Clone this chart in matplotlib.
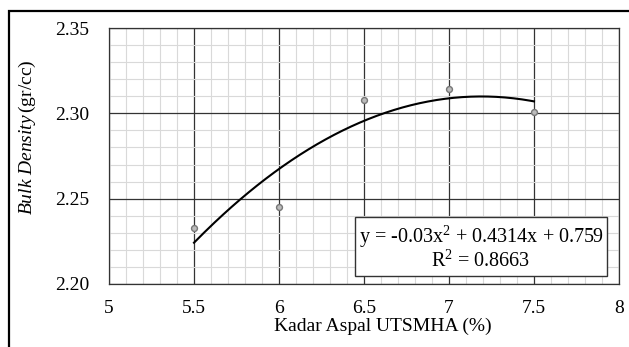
import numpy as np
import matplotlib
matplotlib.use('Agg')
import matplotlib.pyplot as plt
from matplotlib.ticker import MultipleLocator
from matplotlib.patches import Rectangle

# Data
kadar_aspal = [5.5, 6.0, 6.5, 7.0, 7.5]
bulk_density = [2.233, 2.245, 2.308, 2.314, 2.301]
trend_coefs = [-0.03, 0.4314, 0.759]
x_ticks = [5, 5.5, 6, 6.5, 7, 7.5, 8]
x_tick_labels = ['5', '5.5', '6', '6.5', '7', '7.5', '8']
y_ticks = [2.20, 2.25, 2.30, 2.35]
y_tick_labels = ['2.20', '2.25', '2.30', '2.35']

plt.rcParams['font.family'] = ['Liberation Serif', 'DejaVu Serif']
plt.rcParams['mathtext.fontset'] = 'custom'
plt.rcParams['mathtext.rm'] = 'Liberation Serif'
plt.rcParams['mathtext.it'] = 'Liberation Serif:italic'

FS = 14
W, H = 629, 347

fig = plt.figure(figsize=(6.29, 3.47), dpi=100)
ax = fig.add_axes([109 / W, 1 - 284 / H, 510 / W, 256 / H])

# outer chart frame (top and left visible, rest cropped)
fig.patches.append(Rectangle((8.7 / W, -0.2), 1.2, 1 - 10.7 / H + 0.2,
                             transform=fig.transFigure, fill=False,
                             edgecolor='black', linewidth=1.6))

ax.set_xlim(5, 8)
ax.set_ylim(2.20, 2.35)
ax.xaxis.set_minor_locator(MultipleLocator(0.1))
ax.yaxis.set_minor_locator(MultipleLocator(0.01))
ax.set_xticks(x_ticks)
ax.set_xticklabels(x_tick_labels)
ax.set_yticks(y_ticks)
ax.set_yticklabels(y_tick_labels)
ax.grid(which='minor', color='#d9d9d9', linewidth=0.8)
ax.grid(which='major', color='#333333', linewidth=0.9)
ax.set_axisbelow(True)
ax.tick_params(which='both', length=0, labelsize=FS)
ax.tick_params(axis='x', pad=11.5)
ax.tick_params(axis='y', pad=14)
for s in ax.spines.values():
    s.set_color('#333333')
    s.set_linewidth(0.9)

ax.scatter(kadar_aspal, bulk_density, s=18, facecolor='#bbbbbb',
           edgecolor='#777777', linewidth=1.0, zorder=3)

xs = np.linspace(min(kadar_aspal), max(kadar_aspal), 200)
ax.plot(xs, np.polyval(trend_coefs, xs), color='black', linewidth=1.5, zorder=4)

ax.text(7.188, 2.2214, 'y = -0.03x$^2$ + 0.4314x + 0.759\nR$^2$ = 0.8663',
        ha='center', va='center', fontsize=14.5, linespacing=1.05,
        bbox=dict(boxstyle='square,pad=0.2', facecolor='white',
                  edgecolor='#333333', linewidth=1.0), zorder=5)

fig.text(383 / W, 1 - 331 / H, 'Kadar Aspal UTSMHA (%)', fontsize=FS,
         ha='center', va='baseline')
fig.text(27 / W, 1 - 137 / H, r'$\mathit{Bulk\ Density}\,$(gr/cc)', fontsize=FS,
         ha='center', va='center', rotation=90)

fig.savefig('out.png', dpi=100)
